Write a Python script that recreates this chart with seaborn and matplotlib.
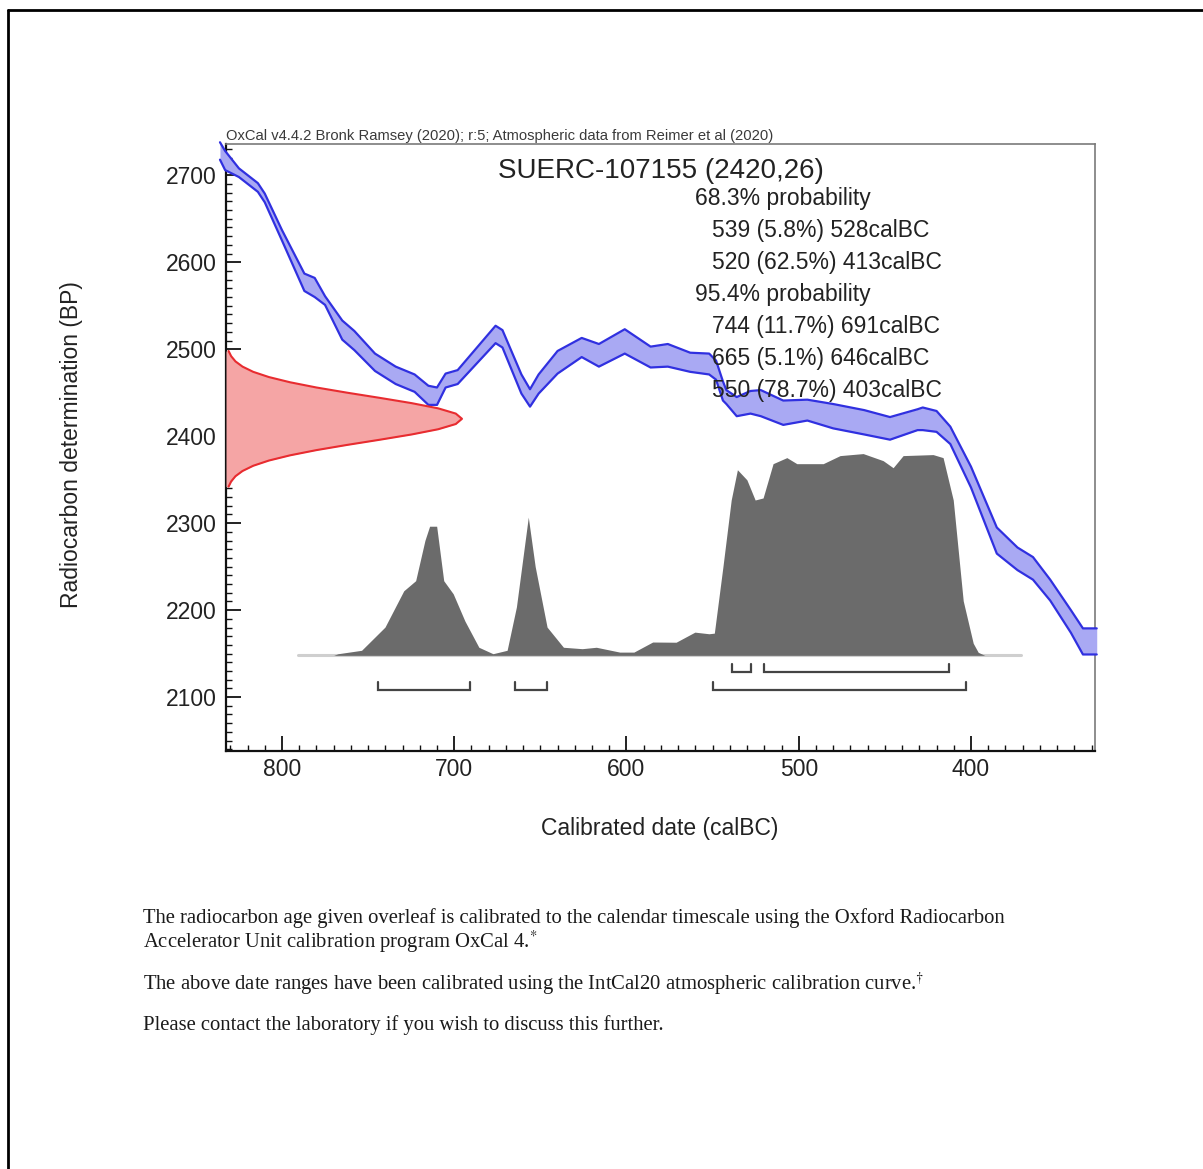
import numpy as np
import pandas as pd
import matplotlib
matplotlib.use("Agg")
import matplotlib.pyplot as plt
import seaborn as sns
from matplotlib.ticker import MultipleLocator, FixedLocator
from matplotlib.lines import Line2D

# ---------------- data ----------------
# IntCal20 calibration curve (cal BC, BP mean, 1 sigma)
cal_year = [836, 833, 825, 814, 810, 800, 787, 781, 775, 765, 758, 746, 734, 723, 715, 710,
            705, 698, 676, 672, 661, 656, 651, 640, 626, 616, 601, 586, 576, 563, 552, 548,
            544, 542, 536, 528, 522, 509, 495, 480, 462, 447, 431, 428, 420, 412, 400, 385,
            373, 364, 354, 342, 335, 327]
cal_bp = [2728, 2717, 2703, 2686, 2674, 2631, 2577, 2571, 2556, 2522, 2510, 2485, 2470, 2461, 2447, 2446,
          2464, 2468, 2517, 2512, 2460, 2444, 2460, 2485, 2502, 2493, 2509, 2491, 2493, 2485, 2483, 2476,
          2452, 2445, 2434, 2439, 2438, 2427, 2430, 2423, 2416, 2409, 2419, 2420, 2417, 2401, 2353, 2280,
          2259, 2248, 2223, 2187, 2164, 2164]
cal_sigma = [10, 11, 5, 5, 5, 6, 10, 11, 5, 11, 11, 10, 10, 10, 11, 10,
             8, 8, 10, 10, 11, 10, 11, 13, 11, 13, 14, 12, 13, 11, 12, 11,
             11, 8, 11, 13, 15, 14, 12, 14, 14, 13, 12, 13, 12, 10, 12, 15,
             13, 13, 12, 13, 15, 15]

# measured radiocarbon age distribution (BP level vs. width in years from the axis)
red_bp = [2342, 2348, 2354, 2360, 2366, 2372, 2378, 2384, 2390, 2396, 2402, 2408, 2414, 2420,
          2426, 2432, 2438, 2444, 2450, 2456, 2462, 2468, 2474, 2480, 2486, 2492, 2498]
red_width = [1.5, 3.0, 5.5, 9.6, 15.8, 24.9, 37.2, 52.5, 70.4, 89.5, 107.8, 123.2, 133.4, 137.0,
             133.4, 123.2, 107.8, 89.5, 70.4, 52.5, 37.2, 24.9, 15.8, 9.6, 5.5, 3.0, 1.5]

# calibrated date probability distribution (relative)
post_year = [770, 767.4, 753.8, 740.2, 729.3, 722.4, 717.0, 714.3, 710.2, 706.1, 700.6, 693.8,
             685.7, 677.5, 669.3, 663.9, 657.0, 653.0, 646.1, 636.6, 625.7, 617.5, 603.9, 595.7,
             584.8, 571.2, 560.3, 552.1, 549.0, 544.0, 539.2, 535.6, 530.1, 525.3, 520.7, 514.9,
             506.9, 501.1, 485.8, 476.0, 462.6, 451.0, 445.2, 439.4, 422.0, 416.2, 410.3, 404.5,
             398.7, 395.8, 392]
post_prob = [0.0, 0.008, 0.025, 0.14, 0.32, 0.37, 0.57, 0.64, 0.64, 0.37, 0.305, 0.17,
             0.04, 0.008, 0.025, 0.24, 0.685, 0.44, 0.14, 0.04, 0.033, 0.04, 0.016, 0.016,
             0.066, 0.065, 0.115, 0.107, 0.11, 0.44, 0.77, 0.92, 0.87, 0.77, 0.78, 0.95,
             0.98, 0.95, 0.95, 0.99, 1.0, 0.965, 0.93, 0.99, 0.995, 0.98, 0.77, 0.27,
             0.06, 0.015, 0.0]

range_68 = [(539, 528), (520, 413)]
range_95 = [(744, 691), (665, 646), (550, 403)]

title = "SUERC-107155 (2420,26)"
header = "OxCal v4.4.2 Bronk Ramsey (2020); r:5; Atmospheric data from Reimer et al (2020)"
prob_lines = ["68.3% probability", "539 (5.8%) 528calBC", "520 (62.5%) 413calBC",
              "95.4% probability", "744 (11.7%) 691calBC", "665 (5.1%) 646calBC",
              "550 (78.7%) 403calBC"]
footer = ["The radiocarbon age given overleaf is calibrated to the calendar timescale using the Oxford Radiocarbon",
          "Accelerator Unit calibration program OxCal 4.$^{*}$",
          "The above date ranges have been calibrated using the IntCal20 atmospheric calibration curve.$^{\\dagger}$",
          "Please contact the laboratory if you wish to discuss this further."]

x_ticks = [800, 700, 600, 500, 400]
y_ticks = [2100, 2200, 2300, 2400, 2500, 2600, 2700]

# ---------------- style ----------------
sns.set_theme(style="white")
plt.rcParams['font.family'] = ['Liberation Sans', 'DejaVu Sans']
plt.rcParams['mathtext.fontset'] = 'stix'
TXT = "#222222"

W, H = 1203, 1169
fig = plt.figure(figsize=(W / 100, H / 100), dpi=100)
ax = fig.add_axes([226 / W, 1 - 751 / H, (1095 - 226) / W, (751 - 144) / H])

XL, XR = 832.5, 328
YB, YT = 2038, 2736
ax.set_xlim(XL, XR)
ax.set_ylim(YB, YT)

cal = pd.DataFrame({"year": cal_year, "bp": cal_bp, "sig": cal_sigma})
cal["upper"] = cal["bp"] + cal["sig"]
cal["lower"] = cal["bp"] - cal["sig"]

# posterior
post = pd.DataFrame({"year": post_year, "prob": post_prob})
base_bp, post_h = 2148, 232
ax.plot([790.7, 370.8], [base_bp, base_bp], color="#cfcfcf", lw=2.2, zorder=1)
ax.fill_between(post["year"], base_bp, base_bp + post["prob"] * post_h,
                color="#6b6b6b", lw=0, zorder=2)

# calibration curve
ax.fill_between(cal["year"], cal["lower"], cal["upper"], color="#a9a9f3",
                lw=0, zorder=3, clip_on=False)
for col in ["upper", "lower"]:
    sns.lineplot(data=cal, x="year", y=col, ax=ax, color="#3030e0", lw=1.6,
                 sort=False, estimator=None, zorder=4, clip_on=False)

# measured age
red = pd.DataFrame({"bp": red_bp, "w": red_width})
red["x"] = XL - red["w"]
ax.fill_betweenx(red["bp"], XL, red["x"], color="#f5a5a5", lw=0, zorder=3)
sns.lineplot(data=red, x="x", y="bp", ax=ax, color="#e82c30", lw=1.5,
             sort=False, estimator=None, zorder=4)

# range brackets
def brackets(ranges, yb):
    for a, b in ranges:
        ax.plot([a, a, b, b], [yb + 9, yb, yb, yb + 9], color="#444444", lw=1.6,
                solid_joinstyle="miter", zorder=5)

brackets(range_68, 2128.7)
brackets(range_95, 2108)

ax.set_xlabel("")
ax.set_ylabel("")

# ticks & spines
ax.xaxis.set_major_locator(FixedLocator(x_ticks))
ax.yaxis.set_major_locator(FixedLocator(y_ticks))
ax.xaxis.set_minor_locator(MultipleLocator(10))
ax.yaxis.set_minor_locator(MultipleLocator(10))
ax.tick_params(axis="both", which="major", direction="in", length=11, width=1.3,
               color="#111111", labelsize=16.5, labelcolor=TXT)
ax.tick_params(axis="both", which="minor", direction="in", length=4.5, width=1.0,
               color="#111111")
ax.tick_params(axis="y", which="major", pad=6.5)
ax.tick_params(axis="x", which="major", pad=5)
ax.tick_params(top=False, right=False, which="both", left=True, bottom=True)
for s in ["left", "bottom"]:
    ax.spines[s].set_color("#111111")
    ax.spines[s].set_linewidth(1.6)
for s in ["top", "right"]:
    ax.spines[s].set_color("#7a7a7a")
    ax.spines[s].set_linewidth(1.2)
ax.grid(False)
ax.set_facecolor("white")

# texts in axes
ax.text(0.0, 1.002, header, transform=ax.transAxes, ha="left", va="bottom",
        fontsize=10.6, color="#3a3a3a")
ax.text(0.5, 0.955, title, transform=ax.transAxes, ha="center", va="center",
        fontsize=20, color=TXT)
ys = [199, 231, 263, 295, 326, 358, 390]
for t, ypx in zip(prob_lines, ys):
    xpx = 695 if "probability" in t else 712
    ax.text((xpx - 226) / 869, (751 - ypx) / 607, t, transform=ax.transAxes,
            ha="left", va="center", fontsize=16.5, color=TXT, zorder=6)

fig.text(72 / W, 1 - 445 / H, "Radiocarbon determination (BP)", rotation=90,
         ha="center", va="center", fontsize=16.5, color=TXT)
fig.text(660 / W, 1 - 828 / H, "Calibrated date (calBC)", ha="center", va="center",
         fontsize=16.5, color=TXT)

for t, ypx in zip(footer, [918, 942, 984, 1025]):
    fig.text(143 / W, 1 - ypx / H, t, ha="left", va="center", fontsize=14.9,
             family=["Liberation Serif", "DejaVu Serif"], color="#1a1a1a")

# page border (top and left edges)
fig.add_artist(Line2D([8 / W, 1], [1 - 10 / H, 1 - 10 / H], transform=fig.transFigure,
                      color="black", lw=2))
fig.add_artist(Line2D([8 / W, 8 / W], [1 - 10 / H, 0], transform=fig.transFigure,
                      color="black", lw=2))

fig.savefig("out.png", dpi=100, facecolor="white")
